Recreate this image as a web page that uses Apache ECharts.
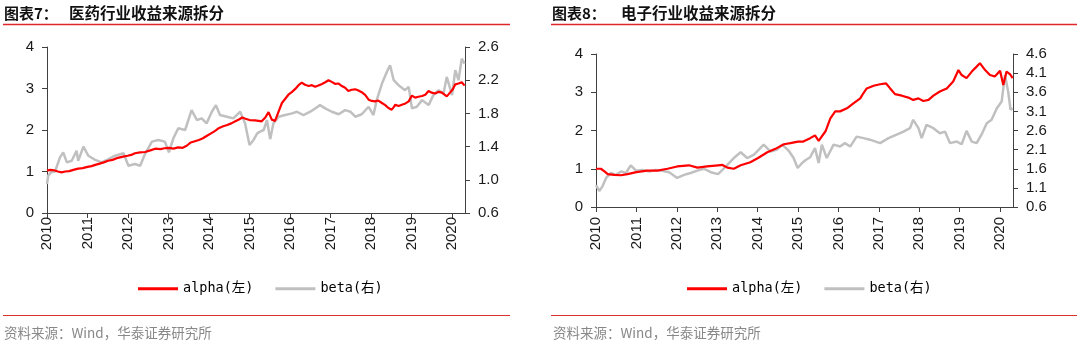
<!DOCTYPE html>
<html>
<head>
<meta charset="utf-8">
<title>行业收益来源拆分</title>
<script src="https://cdn.jsdelivr.net/npm/echarts@6/dist/echarts.min.js"></script>
<style>
  html, body { margin: 0; padding: 0; background: #ffffff; }
  #chart { width: 1080px; height: 347px; }
</style>
</head>
<body>
<div id="chart"></div>
<script>
// Year ticks shared by both panels
const yearTicks = [2010, 2011, 2012, 2013, 2014, 2015, 2016, 2017, 2018, 2019, 2020];

// 图表7 医药: alpha (left axis)
const pharmaAlphaX = [2010.00,2010.08,2010.17,2010.27,2010.36,2010.45,2010.55,2010.65,2010.77,2010.88,2011.00,2011.10,2011.19,2011.30,2011.40,2011.51,2011.62,2011.75,2011.88,2011.99,2012.08,2012.17,2012.30,2012.42,2012.55,2012.67,2012.80,2012.90,2013.01,2013.12,2013.24,2013.35,2013.45,2013.55,2013.65,2013.75,2013.85,2013.95,2014.05,2014.15,2014.25,2014.35,2014.45,2014.55,2014.65,2014.75,2014.82,2014.90,2015.00,2015.14,2015.30,2015.39,2015.47,2015.55,2015.63,2015.72,2015.80,2015.96,2016.05,2016.13,2016.21,2016.29,2016.37,2016.46,2016.54,2016.62,2016.70,2016.79,2016.87,2016.95,2017.03,2017.12,2017.20,2017.28,2017.36,2017.44,2017.52,2017.61,2017.69,2017.77,2017.86,2017.94,2018.02,2018.10,2018.18,2018.27,2018.35,2018.43,2018.51,2018.56,2018.60,2018.68,2018.76,2018.85,2018.93,2019.01,2019.09,2019.17,2019.26,2019.34,2019.42,2019.50,2019.58,2019.67,2019.75,2019.87,2019.95,2020.02,2020.08,2020.16,2020.24,2020.31];
const pharmaAlpha  = [1.02,1.04,1.03,1.00,0.98,1.00,1.01,1.04,1.07,1.08,1.11,1.13,1.16,1.19,1.22,1.26,1.28,1.33,1.36,1.38,1.40,1.44,1.46,1.47,1.51,1.55,1.54,1.56,1.57,1.55,1.58,1.57,1.62,1.70,1.73,1.76,1.80,1.86,1.92,1.98,2.05,2.09,2.12,2.16,2.21,2.26,2.30,2.27,2.24,2.23,2.21,2.30,2.43,2.25,2.22,2.45,2.65,2.85,2.92,2.99,3.08,3.14,3.09,3.06,3.08,3.04,3.07,3.11,3.15,3.20,3.16,3.11,3.12,3.06,3.02,2.94,2.97,2.98,2.95,2.91,2.84,2.73,2.70,2.69,2.71,2.65,2.60,2.53,2.49,2.55,2.61,2.58,2.61,2.64,2.69,2.83,2.78,2.80,2.82,2.85,2.94,2.90,2.88,2.92,2.90,2.81,2.90,2.98,3.10,3.12,3.15,3.07];

// 图表7 医药: beta (right axis)
const pharmaBetaX = [2010.00,2010.03,2010.10,2010.20,2010.32,2010.40,2010.49,2010.61,2010.73,2010.77,2010.90,2011.02,2011.19,2011.35,2011.52,2011.68,2011.89,2012.01,2012.17,2012.30,2012.42,2012.59,2012.75,2012.91,2013.01,2013.12,2013.24,2013.41,2013.57,2013.70,2013.82,2013.94,2014.07,2014.17,2014.27,2014.44,2014.60,2014.77,2014.89,2015.00,2015.10,2015.19,2015.26,2015.35,2015.43,2015.51,2015.59,2015.72,2015.88,2016.05,2016.17,2016.33,2016.50,2016.62,2016.74,2016.87,2017.03,2017.20,2017.36,2017.49,2017.61,2017.77,2017.94,2018.06,2018.14,2018.27,2018.39,2018.47,2018.56,2018.68,2018.84,2018.93,2019.01,2019.13,2019.26,2019.42,2019.54,2019.67,2019.79,2019.87,2020.00,2020.08,2020.16,2020.24,2020.31];
const pharmaBeta  = [0.95,1.05,1.09,1.10,1.27,1.33,1.21,1.23,1.35,1.23,1.40,1.29,1.24,1.21,1.25,1.29,1.32,1.17,1.19,1.17,1.31,1.46,1.48,1.46,1.33,1.50,1.62,1.60,1.84,1.72,1.74,1.68,1.82,1.90,1.78,1.76,1.74,1.82,1.68,1.42,1.48,1.56,1.58,1.60,1.72,1.49,1.68,1.76,1.78,1.80,1.82,1.78,1.82,1.86,1.90,1.86,1.82,1.79,1.84,1.82,1.76,1.79,1.88,1.78,1.96,2.16,2.30,2.38,2.20,2.14,2.08,2.12,1.86,1.88,1.96,1.90,2.02,2.08,2.04,2.24,2.02,2.32,2.20,2.46,2.40];

// 图表8 电子: alpha (left axis)
const techAlphaX = [2010.00,2010.12,2010.21,2010.29,2010.45,2010.62,2010.78,2011.00,2011.27,2011.52,2011.77,2012.01,2012.30,2012.51,2012.75,2013.02,2013.13,2013.25,2013.41,2013.58,2013.82,2014.01,2014.24,2014.44,2014.65,2014.81,2015.00,2015.13,2015.30,2015.42,2015.51,2015.55,2015.68,2015.80,2015.92,2016.04,2016.21,2016.37,2016.54,2016.62,2016.70,2016.87,2017.03,2017.18,2017.28,2017.40,2017.57,2017.73,2017.85,2017.98,2018.10,2018.23,2018.35,2018.51,2018.68,2018.84,2018.97,2019.05,2019.17,2019.30,2019.42,2019.50,2019.63,2019.75,2019.87,2020.00,2020.08,2020.16,2020.25,2020.31];
const techAlpha  = [1.00,1.00,0.93,0.86,0.84,0.83,0.86,0.91,0.95,0.95,1.00,1.06,1.09,1.03,1.06,1.09,1.10,1.03,1.00,1.09,1.17,1.28,1.43,1.52,1.64,1.67,1.71,1.71,1.80,1.87,1.73,1.70,1.98,2.32,2.50,2.50,2.58,2.71,2.84,2.98,3.10,3.17,3.21,3.23,3.10,2.95,2.91,2.86,2.80,2.84,2.77,2.80,2.91,3.02,3.10,3.28,3.58,3.45,3.37,3.54,3.67,3.76,3.58,3.45,3.41,3.56,3.19,3.54,3.47,3.37];

// 图表8 电子: beta (right axis)
const techBetaX = [2010.00,2010.08,2010.16,2010.25,2010.37,2010.49,2010.62,2010.74,2010.86,2010.99,2011.15,2011.32,2011.48,2011.64,2011.81,2012.01,2012.18,2012.34,2012.51,2012.67,2012.84,2013.02,2013.13,2013.25,2013.41,2013.58,2013.74,2013.91,2014.03,2014.15,2014.32,2014.48,2014.61,2014.77,2014.89,2014.99,2015.10,2015.19,2015.30,2015.42,2015.51,2015.59,2015.71,2015.88,2016.04,2016.16,2016.29,2016.45,2016.62,2016.78,2017.03,2017.24,2017.44,2017.61,2017.77,2017.85,2017.98,2018.06,2018.18,2018.35,2018.51,2018.64,2018.76,2018.93,2019.05,2019.17,2019.30,2019.42,2019.54,2019.67,2019.79,2019.92,2020.04,2020.12,2020.20,2020.26,2020.31];
const techBeta  = [1.17,1.02,1.14,1.36,1.49,1.44,1.53,1.49,1.69,1.55,1.57,1.53,1.57,1.55,1.51,1.36,1.44,1.49,1.55,1.60,1.51,1.46,1.57,1.70,1.88,2.03,1.88,1.97,2.10,2.23,2.05,2.10,2.23,2.07,1.88,1.62,1.75,1.83,1.90,2.14,1.75,2.23,1.88,2.23,2.18,2.27,2.18,2.44,2.40,2.36,2.27,2.40,2.49,2.57,2.66,2.88,2.66,2.40,2.75,2.66,2.53,2.57,2.27,2.31,2.24,2.59,2.31,2.27,2.49,2.79,2.88,3.18,3.36,4.05,3.62,3.14,3.18];

const pairs = (xs, ys) => xs.map((x, i) => [x, ys[i]]);

const RED = '#ff0000';
const GREY = '#c0c0c0';
const AXIS = '#404040';
const LABEL_FONT = '"Liberation Sans", Arial, sans-serif';
const LEGEND_FONT = '"DejaVu Sans Mono", "Noto Sans CJK SC", monospace';
const CJK_FONT = '"Noto Sans CJK SC", sans-serif';

function xAxisFor(gridIndex) {
  return {
    type: 'value', gridIndex, min: 2010, max: 2020.32,
    splitLine: { show: false },
    axisLine: { lineStyle: { color: AXIS, width: 1 } },
    axisTick: { show: true, length: 5, customValues: yearTicks, lineStyle: { color: AXIS } },
    axisLabel: {
      customValues: yearTicks, rotate: 90, margin: gridIndex === 0 ? 4 : 10,
      color: '#1a1a1a', fontSize: 15, fontFamily: LABEL_FONT,
      formatter: v => String(Math.round(v))
    }
  };
}

function yAxisFor(gridIndex, position, min, max, interval, digits) {
  return {
    type: 'value', gridIndex, position, min, max, interval,
    splitLine: { show: false },
    axisLine: { show: true, lineStyle: { color: AXIS, width: 1 } },
    axisTick: { show: true, length: 5, lineStyle: { color: AXIS } },
    axisLabel: {
      margin: 13, color: '#1a1a1a', fontSize: 15, fontFamily: LABEL_FONT,
      formatter: v => Number(v).toFixed(digits)
    }
  };
}

function lineSeries(name, xAxisIndex, yAxisIndex, data, color, width, z) {
  return {
    name, type: 'line', xAxisIndex, yAxisIndex, data,
    showSymbol: false, symbol: 'none', z,
    lineStyle: { color, width }, itemStyle: { color },
    emphasis: { disabled: true }
  };
}

function legendAt(left) {
  return {
    left, top: 282, padding: 0, icon: 'rect', itemWidth: 40, itemHeight: 3, itemGap: 22,
    data: ['alpha(左)', 'beta(右)'],
    selectedMode: false,
    textStyle: { fontFamily: LEGEND_FONT, fontSize: 13.5, color: '#000' }
  };
}

function text(x, y, str, font, fill) {
  return { type: 'text', x, y, silent: true,
    style: { text: str, font, fill, textVerticalAlign: 'middle' } };
}
function rule(x1, x2, y, color, w) {
  return { type: 'line', silent: true,
    shape: { x1, y1: y, x2, y2: y }, style: { stroke: color, lineWidth: w } };
}

const chart = echarts.init(document.getElementById('chart'), null, { renderer: 'canvas' });
chart.setOption({
  animation: false,
  backgroundColor: '#ffffff',
  grid: [
    { left: 47, top: 47, width: 418, height: 166 },
    { left: 596, top: 54, width: 417, height: 153 }
  ],
  xAxis: [xAxisFor(0), xAxisFor(1)],
  yAxis: [
    yAxisFor(0, 'left', 0, 4, 1, 0),
    yAxisFor(0, 'right', 0.6, 2.6, 0.4, 1),
    yAxisFor(1, 'left', 0, 4, 1, 0),
    yAxisFor(1, 'right', 0.6, 4.6, 0.5, 1)
  ],
  legend: [legendAt(138), legendAt(687)],
  series: [
    lineSeries('beta(右)', 0, 1, pairs(pharmaBetaX, pharmaBeta), GREY, 2.5, 2),
    lineSeries('alpha(左)', 0, 0, pairs(pharmaAlphaX, pharmaAlpha), RED, 2.2, 3),
    lineSeries('beta(右)', 1, 3, pairs(techBetaX, techBeta), GREY, 2.5, 2),
    lineSeries('alpha(左)', 1, 2, pairs(techAlphaX, techAlpha), RED, 2.2, 3)
  ],
  graphic: [
    // headers
    text(4, 13, '图表7：', 'bold 15px ' + CJK_FONT, '#111'),
    text(69, 13, '医药行业收益来源拆分', 'bold 15.5px ' + CJK_FONT, '#111'),
    text(552, 13, '图表8：', 'bold 15px ' + CJK_FONT, '#111'),
    text(621, 13, '电子行业收益来源拆分', 'bold 15.5px ' + CJK_FONT, '#111'),
    rule(3, 510, 24.5, '#e0262a', 1.5),
    rule(551, 1077, 24.5, '#e0262a', 1.5),
    // footers
    rule(3, 510, 315.5, '#d9302c', 1.2),
    rule(551, 1077, 315.5, '#d9302c', 1.2),
    text(4, 333, '资料来源：Wind，华泰证券研究所', '13.5px ' + CJK_FONT, '#888888'),
    text(553, 333, '资料来源：Wind，华泰证券研究所', '13.5px ' + CJK_FONT, '#888888')
  ]
});
</script>
</body>
</html>
